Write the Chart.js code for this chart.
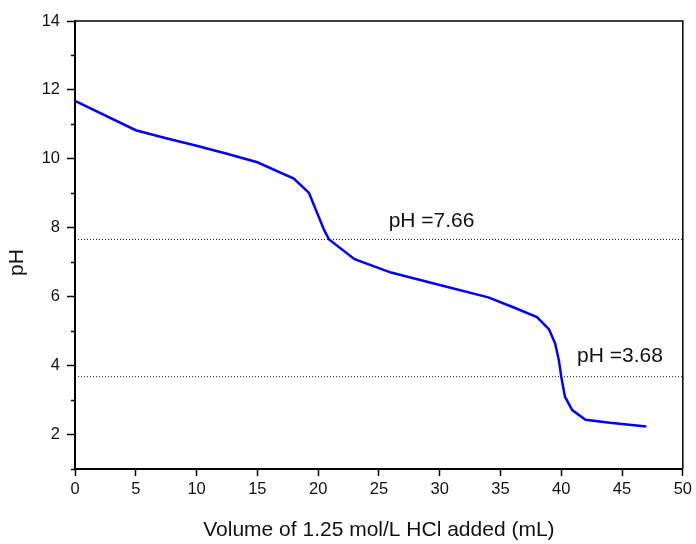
<!DOCTYPE html>
<html>
<head>
<meta charset="utf-8">
<title>Titration curve</title>
<script src="https://cdn.jsdelivr.net/npm/chart.js@4.4.1/dist/chart.umd.min.js"></script>
<style>
  html, body { margin: 0; padding: 0; background: #fff; }
  canvas { display: block; }
</style>
</head>
<body>
<canvas id="phChart" width="696" height="544"></canvas>
<script>
// Titration data
const volumeMl = [0, 5, 7.5, 10, 12.5, 15, 18, 19.25, 20, 20.5, 20.9, 23, 26, 30, 34, 36, 38, 39, 39.5, 39.8, 40, 40.3, 40.9, 42, 44, 47];
const phValues = [11.68, 10.83, 10.6, 10.38, 10.15, 9.9, 9.43, 9.01, 8.36, 7.93, 7.66, 7.09, 6.70, 6.34, 5.98, 5.70, 5.41, 5.05, 4.64, 4.16, 3.68, 3.10, 2.71, 2.43, 2.34, 2.23];

// Equivalence point levels (dotted lines)
const refLevels = [7.66, 3.68];
const refLabels = ['pH =7.66', 'pH =3.68'];

const xRange = [0, 50];
const yRange = [1, 14];

const FONT = '"Liberation Sans", Arial, sans-serif';

const curve = volumeMl.map((v, i) => ({ x: v, y: phValues[i] }));

const refDatasets = refLevels.map(level => ({
    data: [{ x: xRange[0], y: level }, { x: xRange[1], y: level }],
    borderColor: '#222',
    borderWidth: 1,
    borderDash: [1, 2],
    pointRadius: 0,
    fill: false
}));

// frame, minor y ticks and the pH labels
const extras = {
    id: 'extras',
    afterDraw(chart) {
        const { ctx, chartArea } = chart;
        const xs = chart.scales.x;
        const ys = chart.scales.y;
        ctx.save();
        ctx.strokeStyle = '#000';

        // top and right frame lines
        ctx.lineWidth = 1.5;
        ctx.beginPath();
        ctx.moveTo(chartArea.left, chartArea.top);
        ctx.lineTo(chartArea.right, chartArea.top);
        ctx.lineTo(chartArea.right, chartArea.bottom);
        ctx.stroke();

        // minor ticks on odd pH values
        for (let v = yRange[0]; v <= yRange[1]; v++) {
            if (v % 2 === 0) continue;
            const py = Math.round(ys.getPixelForValue(v)) + 0.5;
            ctx.beginPath();
            ctx.moveTo(chartArea.left - 4, py);
            ctx.lineTo(chartArea.left, py);
            ctx.stroke();
        }

        // labels above the dotted lines
        const spots = [{ x: 25.8, dy: 12 }, { x: 41.3, dy: 15 }];
        ctx.fillStyle = '#111';
        ctx.font = '21px ' + FONT;
        ctx.textAlign = 'left';
        ctx.textBaseline = 'alphabetic';
        refLabels.forEach((txt, i) => {
            const px = xs.getPixelForValue(spots[i].x);
            const py = ys.getPixelForValue(refLevels[i]) - spots[i].dy;
            ctx.fillText(txt, px, py);
        });
        ctx.restore();
    }
};

new Chart(document.getElementById('phChart'), {
    type: 'line',
    data: {
        datasets: [{
            data: curve,
            borderColor: '#0000ff',
            borderWidth: 2.5,
            pointRadius: 0,
            tension: 0,
            fill: false
        }, ...refDatasets]
    },
    options: {
        responsive: false,
        animation: false,
        layout: { padding: { top: 21, right: 12, bottom: 0, left: 0 } },
        plugins: {
            legend: { display: false },
            tooltip: { enabled: false }
        },
        scales: {
            x: {
                type: 'linear',
                min: xRange[0],
                max: xRange[1],
                afterFit(scale) { scale.height = 75; },
                border: { display: true, color: '#000', width: 2 },
                grid: { drawOnChartArea: false, tickLength: 7, tickWidth: 1.5, tickColor: '#000' },
                ticks: {
                    stepSize: 5,
                    padding: 4,
                    color: '#111',
                    maxRotation: 0,
                    font: { family: FONT, size: 16.5 }
                },
                title: {
                    display: true,
                    text: 'Volume of 1.25 mol/L HCl added (mL)',
                    color: '#111',
                    font: { family: FONT, size: 21 },
                    padding: { top: 0, bottom: 1 }
                }
            },
            y: {
                min: yRange[0],
                max: yRange[1],
                afterFit(scale) { scale.width = 75; },
                border: { display: true, color: '#000', width: 2 },
                grid: {
                    drawOnChartArea: false,
                    tickLength: 8,
                    tickWidth: 1.5,
                    tickColor: c => (c.tick && c.tick.value % 2 === 0) ? '#000' : 'rgba(0,0,0,0)'
                },
                ticks: {
                    stepSize: 1,
                    padding: 7,
                    color: '#111',
                    font: { family: FONT, size: 16.5 },
                    callback: v => (v % 2 === 0 ? v : '')
                },
                title: {
                    display: true,
                    text: 'pH      ',
                    color: '#111',
                    font: { family: FONT, size: 21 },
                    padding: { top: 5, bottom: 0 }
                }
            }
        }
    },
    plugins: [extras]
});
</script>
</body>
</html>
